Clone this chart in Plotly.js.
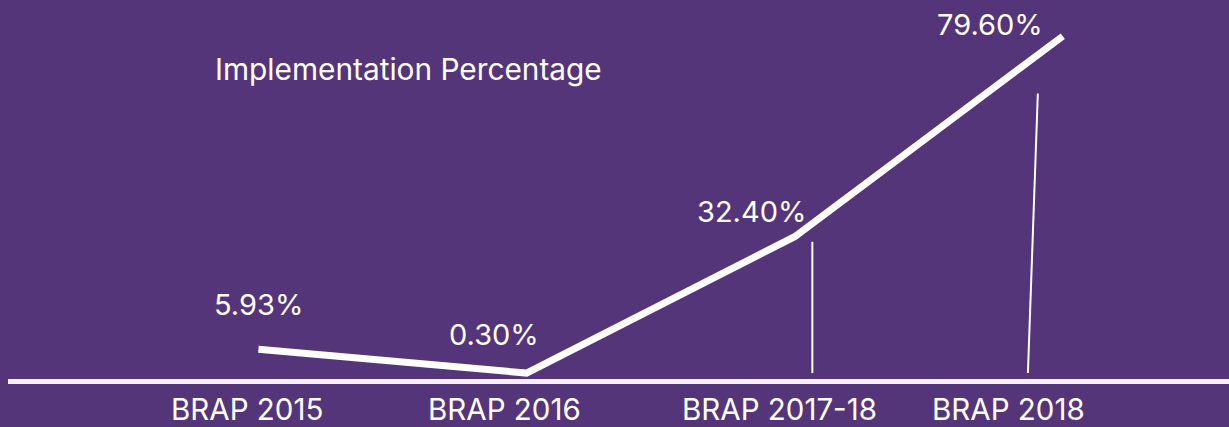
<!DOCTYPE html>
<html>
<head>
<meta charset="utf-8">
<script src="https://cdn.plot.ly/plotly-3.0.1.min.js"></script>
<style>
html,body{margin:0;padding:0;background:#55357a;}
#chart{width:1229px;height:427px;}
</style>
</head>
<body>
<div id="chart"></div>
<script>
const categories = ["BRAP 2015", "BRAP 2016", "BRAP 2017-18", "BRAP 2018"];
const values = [5.93, 0.30, 32.40, 79.60];
const valueLabels = ["5.93%", "0.30%", "32.40%", "79.60%"];
const chartTitle = "Implementation Percentage";

const idx = categories.map((c, i) => i);
const BG = "#55357a";
const FONT = "Inter, Roboto, 'Liberation Sans', sans-serif";

// styling offsets (pixels) for labels
const labelShift = [[0, 45], [-33, 39], [-43, 25], [-73, 12]];
const tickShift = [-11, -22, -15, -54];

const annotations = [];
values.forEach((v, i) => {
  annotations.push({
    x: idx[i], y: v, xref: "x", yref: "y",
    text: valueLabels[i], showarrow: false,
    xshift: labelShift[i][0], yshift: labelShift[i][1],
    font: {family: FONT, size: 29, color: "#ffffff"}
  });
});
categories.forEach((c, i) => {
  annotations.push({
    x: idx[i], y: 0, xref: "x", yref: "paper", yanchor: "top",
    yshift: -11, xshift: tickShift[i], borderpad: 0,
    text: c, showarrow: false,
    font: {family: FONT, size: 29.5, color: "#ffffff"}
  });
});
annotations.push({
  x: 0, y: 1, xref: "paper", yref: "paper",
  xanchor: "left", yanchor: "middle",
  xshift: 205, yshift: -60,
  text: chartTitle, showarrow: false,
  font: {family: FONT, size: 29.8, color: "#ffffff"}
});

const shapes = [
  {type: "line", xref: "x", yref: "y", x0: idx[2] + 0.066, x1: idx[2] + 0.066,
   y0: 0.3, y1: values[2] - 1.2, line: {color: "#ffffff", width: 2}},
  {type: "line", xref: "x", yref: "y", x0: idx[3] - 0.13, x1: idx[3] - 0.093,
   y0: 0.3, y1: values[3] - 13.5, line: {color: "#ffffff", width: 2}}
];

const trace = {
  x: idx, y: values, type: "scatter", mode: "lines",
  line: {color: "#ffffff", width: 7},
  hoverinfo: "skip"
};

const layout = {
  width: 1229, height: 427,
  paper_bgcolor: BG, plot_bgcolor: BG,
  margin: {l: 8, r: 0, t: 9, b: 48},
  showlegend: false,
  xaxis: {
    type: "linear", range: [-0.934, 3.62],
    showgrid: false, zeroline: false, showticklabels: false, ticks: "",
    showline: true, linecolor: "#f4f0f8", linewidth: 5
  },
  yaxis: {
    range: [-1.1, 86], showgrid: false, zeroline: false,
    showticklabels: false, ticks: "", showline: false
  },
  annotations: annotations,
  shapes: shapes
};

Plotly.newPlot("chart", [trace], layout, {displayModeBar: false, staticPlot: true});
</script>
</body>
</html>
